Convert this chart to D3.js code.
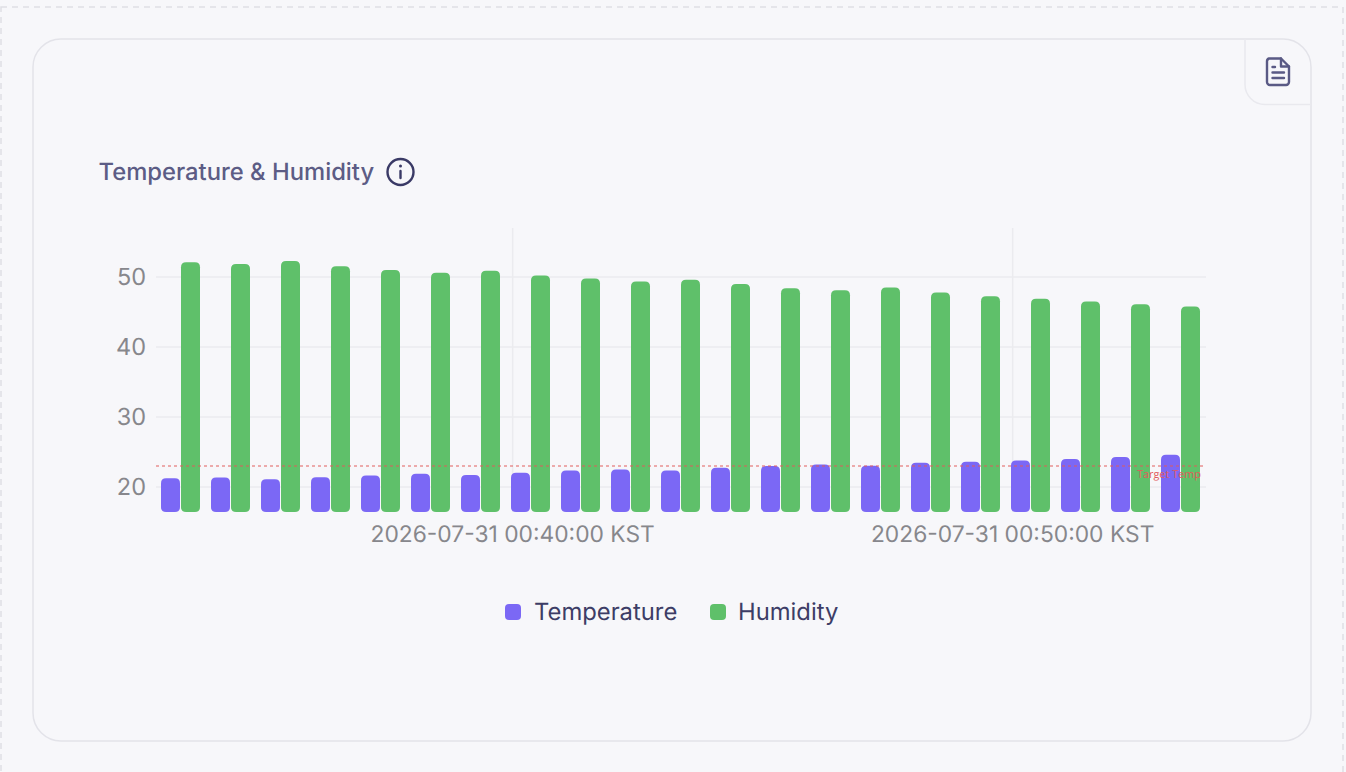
<!DOCTYPE html>
<html><head><meta charset="utf-8">
<script src="https://cdn.jsdelivr.net/npm/d3@7/dist/d3.min.js"></script>
<style>
html,body{margin:0;padding:0;background:#f7f7fa;overflow:hidden;}
svg{display:block;}
text{font-family:Inter,"Noto Sans",sans-serif;text-rendering:geometricPrecision;}
</style></head><body><svg id="c" width="1346" height="772"></svg>
<script>
const times=["00:33:22","00:34:22","00:35:22","00:36:22","00:37:22","00:38:22","00:39:22","00:40:22","00:41:22","00:42:22","00:43:22","00:44:22","00:45:22","00:46:22","00:47:22","00:48:22","00:49:22","00:50:22","00:51:22","00:52:22","00:53:22"];
const temperature=[21.25,21.35,21.1,21.4,21.65,21.9,21.7,22.05,22.35,22.5,22.35,22.75,23.0,23.2,23.05,23.45,23.6,23.8,24.0,24.3,24.6];
const humidity=[52.1,51.85,52.3,51.55,51.0,50.6,50.9,50.2,49.8,49.35,49.6,49.0,48.4,48.1,48.5,47.8,47.25,46.9,46.5,46.1,45.8];
const yTicks=[20,30,40,50];
const xTicks=["00:40:00","00:50:00"];
const legendItems=["Temperature","Humidity"];
const colors=["#7b68f5","#5fc06a"];
const targetValue=23, targetLabel="Target Temp", chartTitle="Temperature & Humidity", datePrefix="2026-07-31 ", zone=" KST";

const svg=d3.select("#c");
const parse=d3.utcParse("%Y-%m-%d %H:%M:%S");
const T=s=>parse("2026-07-31 "+s);
const x=d3.scaleUtc().domain([T("00:32:52"),T("00:53:52")]).range([156,1206]);
const y=d3.scaleLinear().domain([16.43,57]).range([512,228]);

// frames
svg.append("rect").attr("x",1).attr("y",7).attr("width",1342).attr("height",800).attr("fill","none").attr("stroke","#dfdfe5").attr("stroke-width",1.5).attr("stroke-dasharray","6 5");
svg.append("rect").attr("x",33).attr("y",39).attr("width",1278).attr("height",702).attr("rx",28).attr("fill","#f7f7fa").attr("stroke","#e3e3e9").attr("stroke-width",1.5);
svg.append("path").attr("d","M1245 39.5V84a20 20 0 0 0 20 20.5H1311").attr("fill","none").attr("stroke","#e9e9ee").attr("stroke-width",1.5);
// document icon
const ic=svg.append("g").attr("transform","translate(1266,57)").attr("fill","none").attr("stroke","#5a5a85").attr("stroke-width",2.4).attr("stroke-linecap","round").attr("stroke-linejoin","round");
ic.append("path").attr("d","M3 1.5H15L23 9.5V25a3 3 0 0 1-3 3H4a3 3 0 0 1-3-3V4.5a3 3 0 0 1 2-3Z");
ic.append("path").attr("d","M15 1.5V9.5H23");
ic.append("path").attr("d","M6.5 10H9M6.5 15.5H18M6.5 21H18");
// title
svg.append("text").attr("x",98.5).attr("y",179.5).attr("font-size",23.8).attr("font-weight",500).attr("fill","#5c5c85").text(chartTitle);
const inf=svg.append("g").attr("transform","translate(400.5,172)");
inf.append("circle").attr("r",13).attr("fill","none").attr("stroke","#3a3a66").attr("stroke-width",2.4);
inf.append("line").attr("y1",-1).attr("y2",6).attr("stroke","#3a3a66").attr("stroke-width",2.4).attr("stroke-linecap","round");
inf.append("circle").attr("cy",-6).attr("r",1.5).attr("fill","#3a3a66");

// grid
svg.append("g").selectAll("line").data(yTicks).join("line").attr("x1",156).attr("x2",1206).attr("y1",d=>y(d)).attr("y2",d=>y(d)).attr("stroke","#ebebef").attr("stroke-width",1.5);
svg.append("g").selectAll("line").data(xTicks).join("line").attr("x1",d=>x(T(d))).attr("x2",d=>x(T(d))).attr("y1",228).attr("y2",512).attr("stroke","#ebebef").attr("stroke-width",1.5);
// y labels
svg.append("g").selectAll("text").data(yTicks).join("text").attr("x",146).attr("y",d=>y(d)+8).attr("text-anchor","end").attr("font-size",23.5).attr("fill","#87878c").text(d=>d);
// x labels
svg.append("g").selectAll("text").data(xTicks).join("text").attr("x",d=>x(T(d))).attr("y",542).attr("text-anchor","middle").attr("font-size",22.8).attr("fill","#87878c").text(d=>datePrefix+d+zone);

// bars
function barPath(px,py,w,base,r){r=Math.min(r,(base-py)/2);return `M${px} ${base-r}V${py+r}Q${px} ${py} ${px+r} ${py}H${px+w-r}Q${px+w} ${py} ${px+w} ${py+r}V${base-r}Q${px+w} ${base} ${px+w-r} ${base}H${px+r}Q${px} ${base} ${px} ${base-r}Z`;}
const bw=19;
svg.append("g").selectAll("path").data(times).join("path").attr("fill",colors[0]).attr("d",(d,i)=>barPath(x(T(d))-20,y(temperature[i]),bw,y.range()[0],5));
svg.append("g").selectAll("path").data(times).join("path").attr("fill",colors[1]).attr("d",(d,i)=>barPath(x(T(d)),y(humidity[i]),bw,y.range()[0],5));
// target
svg.append("line").attr("x1",156).attr("x2",1203).attr("y1",y(targetValue)).attr("y2",y(targetValue)).attr("stroke","#e05a5a").attr("stroke-opacity",.65).attr("stroke-width",1.5).attr("stroke-dasharray","3 3");
svg.append("text").attr("x",1201).attr("y",477.5).attr("text-anchor","end").attr("font-size",10.9).attr("fill","#e25a5a").attr("style","font-family:'Open Sans',sans-serif").text(targetLabel);
// legend
const lx=[505,710], ltx=[534,738];
legendItems.forEach((t,i)=>{
 svg.append("rect").attr("x",lx[i]).attr("y",604).attr("width",16).attr("height",16).attr("rx",4).attr("fill",colors[i]);
 svg.append("text").attr("x",ltx[i]).attr("y",619.5).attr("font-size",23.8).attr("fill","#3d3d66").text(t);
});
</script></body></html>
